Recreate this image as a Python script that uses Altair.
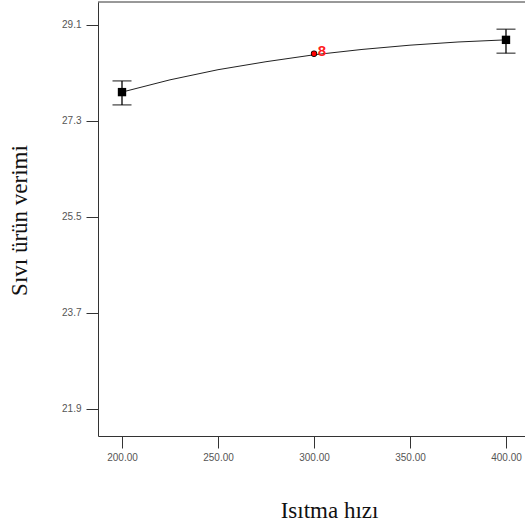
import altair as alt
import pandas as pd

# Design points
pt_x = [200, 300, 400]
pt_y = [27.84, 28.56, 28.82]
# Error bars (only at the factorial points)
eb_x = [200, 400]
eb_lo = [27.60, 28.57]
eb_hi = [28.05, 29.02]
# Predicted response curve
curve_x = [200, 225, 250, 275, 300, 325, 350, 375, 400]
curve_y = [27.84, 28.07, 28.26, 28.41, 28.54, 28.64, 28.72, 28.78, 28.82]
# Centre point replicate label
center_x = [300]
center_y = [28.56]
center_lbl = ["8"]

x_ticks = [200, 250, 300, 350, 400]
y_ticks = [21.9, 23.7, 25.5, 27.3, 29.1]

pts = pd.DataFrame({"x": pt_x, "y": pt_y})
eb = pd.DataFrame({"x": eb_x, "lo": eb_lo, "hi": eb_hi})
cur = pd.DataFrame({"x": curve_x, "y": curve_y})
cen = pd.DataFrame({"x": center_x, "y": center_y, "t": center_lbl})

lab_font = "Liberation Sans"
title_font = "Liberation Serif"

xs = alt.Scale(domain=[187.5, 409.9], nice=False, zero=False)
ys = alt.Scale(domain=[21.39, 29.53], nice=False, zero=False)

x_axis = alt.Axis(values=x_ticks, format=".2f", title="Isıtma hızı", grid=False,
                  tickSize=12, tickColor="#333", domainColor="#333",
                  labelFont=lab_font, labelFontSize=10, labelColor="#555", labelPadding=4,
                  titleFont=title_font, titleFontSize=23, titleFontWeight="normal",
                  titleColor="#111", titleX=231, titleY=74, titleBaseline="middle",
                  titleAnchor="start", titleAlign="center")
y_axis = alt.Axis(values=y_ticks, format=".1f", title="Sıvı ürün verimi", grid=False,
                  tickSize=12, tickColor="#333", domainColor="#333",
                  labelFont=lab_font, labelFontSize=10, labelColor="#555", labelPadding=5,
                  titleFont=title_font, titleFontSize=23, titleFontWeight="normal",
                  titleColor="#111", titleX=-79, titleY=218, titleAngle=-90,
                  titleBaseline="middle", titleAlign="center", titleAnchor="start")

base_x = alt.X("x:Q", scale=xs, axis=x_axis)

# top frame line (the right side of the frame is outside the window in the reference)
top_frame = alt.Chart(cen).mark_rule(color="#333", strokeWidth=1).encode(
    x=alt.value(0), x2=alt.value(430), y=alt.value(0))

line = alt.Chart(cur).mark_line(color="#222", strokeWidth=1).encode(
    x=base_x, y=alt.Y("y:Q", scale=ys, axis=y_axis))

rules = alt.Chart(eb).mark_rule(color="#000", strokeWidth=1.3).encode(
    x=alt.X("x:Q", scale=xs), y=alt.Y("lo:Q", scale=ys), y2="hi:Q")
cap_lo = alt.Chart(eb).mark_tick(color="#000", orient="horizontal", size=19, thickness=1.3).encode(
    x=alt.X("x:Q", scale=xs), y=alt.Y("lo:Q", scale=ys))
cap_hi = alt.Chart(eb).mark_tick(color="#000", orient="horizontal", size=19, thickness=1.3).encode(
    x=alt.X("x:Q", scale=xs), y=alt.Y("hi:Q", scale=ys))

squares = alt.Chart(eb.assign(y=[pt_y[0], pt_y[2]])).mark_point(
    shape="square", filled=True, color="#000", size=70, opacity=1).encode(
    x=alt.X("x:Q", scale=xs), y=alt.Y("y:Q", scale=ys))

cdot = alt.Chart(cen).mark_point(shape="circle", filled=True, color="#000", size=40, opacity=1,
                                 dy=-1).encode(
    x=alt.X("x:Q", scale=xs), y=alt.Y("y:Q", scale=ys))
rdot = alt.Chart(cen).mark_point(shape="circle", filled=True, color="#ff0000", size=24, opacity=1,
                                 ).encode(
    x=alt.X("x:Q", scale=xs), y=alt.Y("y:Q", scale=ys))
rtext = alt.Chart(cen).mark_text(color="#ff2020", font=lab_font, fontSize=15, fontWeight="bold",
                                 dx=8, dy=-3, align="center", baseline="middle").encode(
    x=alt.X("x:Q", scale=xs), y=alt.Y("y:Q", scale=ys), text="t:N")

chart = alt.layer(top_frame, line, rules, cap_lo, cap_hi, squares, cdot, rdot, rtext).properties(
    width=427, height=434,
    autosize=alt.AutoSizeParams(type="none"),
    padding={"left": 98, "top": 2, "right": 0, "bottom": 95},
    background="white",
).configure_view(stroke=None)

chart.save("out.html", embed_options={"renderer": "svg", "actions": False})
